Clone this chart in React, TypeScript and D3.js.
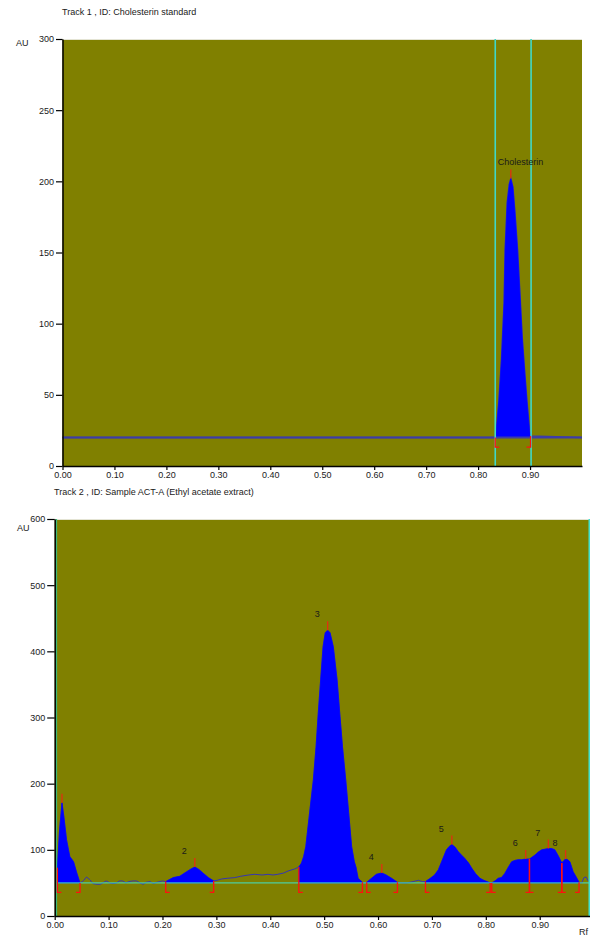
import React, {useEffect, useRef} from 'react';
import * as d3 from 'd3';

// Track 1 - cholesterin standard, scanned signal (Rf / AU)
const trackOneRf = [0, 0.833, 0.835, 0.840, 0.845, 0.850, 0.852, 0.856, 0.860, 0.863, 0.867, 0.871, 0.876, 0.880, 0.885, 0.890, 0.894, 0.899, 0.901, 1.0];
const trackOneAu = [20, 20, 25, 46, 75, 115, 152, 185, 198, 202, 196, 178, 152, 125, 90, 65, 46, 25, 21, 20];
const trackOneNames = ['Cholesterin'];
const trackOneStart = [0.833];
const trackOneApex = [0.863];
const trackOneEnd = [0.901];
const trackOneYTicks = [0, 50, 100, 150, 200, 250, 300];

// Track 2 - sample ACT-A (ethyl acetate extract)
const trackTwoRf = [
    0.003, 0.005, 0.009, 0.0135, 0.017, 0.022, 0.028, 0.035, 0.041, 0.047, 0.053, 0.059, 0.065, 0.071, 0.078, 0.085,
    0.091, 0.096, 0.102, 0.108, 0.115, 0.120, 0.126, 0.132, 0.138, 0.145, 0.152, 0.158, 0.164, 0.170, 0.177, 0.183,
    0.190, 0.200, 0.206, 0.213, 0.220, 0.232, 0.245, 0.253, 0.260, 0.268, 0.275, 0.285, 0.295, 0.302, 0.310, 0.320,
    0.334, 0.345, 0.360, 0.371, 0.385, 0.396, 0.405, 0.414, 0.425, 0.433, 0.445, 0.453, 0.458, 0.462, 0.466, 0.473,
    0.480, 0.485, 0.489, 0.4935, 0.498, 0.502, 0.5065, 0.511, 0.517, 0.524, 0.529, 0.534, 0.540, 0.5455, 0.551, 0.556,
    0.559, 0.563, 0.571, 0.575, 0.579, 0.588, 0.597, 0.607, 0.615, 0.625, 0.636, 0.645, 0.654, 0.665, 0.675, 0.682,
    0.688, 0.697, 0.705, 0.712, 0.718, 0.727, 0.732, 0.737, 0.743, 0.749, 0.755, 0.761, 0.768, 0.774, 0.781, 0.789,
    0.796, 0.802, 0.808, 0.811, 0.817, 0.823, 0.829, 0.835, 0.842, 0.848, 0.854, 0.860, 0.866, 0.874, 0.881, 0.886,
    0.891, 0.898, 0.904, 0.910, 0.916, 0.922, 0.928, 0.935, 0.941, 0.945, 0.948, 0.952, 0.956, 0.962, 0.969, 0.973,
    0.978, 0.982, 0.986, 0.990, 0.995
];
const trackTwoAu = [
    65, 73, 130, 171, 150, 115, 90, 82, 65, 50, 53, 59, 55, 49, 48, 48,
    51, 53, 50, 49, 50, 53, 53, 50, 52, 53, 53, 50, 48, 51, 52, 49,
    51, 53, 52, 55, 58, 60, 67, 71, 74, 70, 65, 58, 53, 54, 56, 57,
    58, 60, 62, 63, 62, 63, 62, 63, 65, 68, 71, 74, 80, 90, 105, 156,
    206, 256, 306, 357, 407, 428, 432, 428, 407, 357, 306, 256, 206, 156, 105, 82,
    74, 57, 51, 50, 51, 57, 63, 65, 62, 57, 51, 50, 50, 52, 54, 52,
    52, 57, 62, 70, 82, 100, 105, 108, 104, 97, 92, 87, 80, 72, 64, 57,
    54, 52, 50, 50, 53, 57, 58, 64, 74, 82, 84, 85, 85, 86, 86, 89,
    92, 97, 100, 101, 102, 102, 100, 90, 80, 84, 86, 85, 82, 67, 57, 51,
    50, 58, 59, 53, 50
];
const trackTwoNames = ['', '2', '3', '4', '5', '6', '7', '8'];
const trackTwoStart = [0.005, 0.206, 0.453, 0.579, 0.688, 0.811, 0.881, 0.941];
const trackTwoApex = [0.0135, 0.260, 0.5065, 0.607, 0.737, 0.874, 0.916, 0.948];
const trackTwoEnd = [0.047, 0.295, 0.571, 0.636, 0.808, 0.881, 0.941, 0.973];
const trackTwoYTicks = [0, 100, 200, 300, 400, 500, 600];

const rfTicks = [0, 0.1, 0.2, 0.3, 0.4, 0.5, 0.6, 0.7, 0.8, 0.9];

const FONT = '"Liberation Sans", Arial, sans-serif';

export default function App() {
    const container = useRef<SVGSVGElement>(null);

    useEffect(() => {
        const svg = d3.select(container.current);
        svg.selectAll('*').remove();

        drawTrack({
            svg, id: 'one',
            left: 62.5, right: 582, top: 39, bottom: 466, yMax: 300, baseline: 20,
            rf: trackOneRf, au: trackOneAu,
            names: trackOneNames, starts: trackOneStart, apexes: trackOneApex, ends: trackOneEnd,
            yTicks: trackOneYTicks, tickSize: 6.5,
            title: 'Track  1 , ID: Cholesterin standard', titleX: 62, titleY: 15,
            auX: 16, auY: 46,
            markers: [0.833, 0.902], markerColors: ['#40d8c8', '#40d8c8'],
            baseColor: '#3c3ca8', baseWidth: 2, lineColor: '#3c3ca8', lineWidth: 1.5,
            rfLabel: false
        });

        drawTrack({
            svg, id: 'two',
            left: 54.7, right: 593.6, top: 519, bottom: 916, yMax: 600, baseline: 50,
            rf: trackTwoRf, au: trackTwoAu,
            names: trackTwoNames, starts: trackTwoStart, apexes: trackTwoApex, ends: trackTwoEnd,
            yTicks: trackTwoYTicks, tickSize: 7.5,
            title: 'Track  2 , ID: Sample ACT-A (Ethyl acetate extract)', titleX: 54, titleY: 495,
            auX: 17, auY: 531,
            markers: [0.003, 0.992], markerColors: ['#3cb878', '#40e0d0'],
            baseColor: '#40e0c8', baseWidth: 1, lineColor: '#3434b4', lineWidth: 1,
            rfLabel: true
        });
    }, []);

    return (
        <svg ref={container} width={590} height={937}
             style={{position: 'absolute', left: 0, top: 0, background: '#ffffff'}}/>
    );
}

function drawTrack(o: any) {
    const {svg, left, right, top, bottom, yMax, baseline, rf, au} = o;

    const xScale = d3.scaleLinear().domain([0, 1]).range([left, right]);
    const yScale = d3.scaleLinear().domain([0, yMax]).range([bottom, top]);
    const points = rf.map((r: number, i: number) => ({rf: r, au: au[i]}));
    const valueAt = (r: number) => points.reduce((best: any, p: any) =>
        Math.abs(p.rf - r) < Math.abs(best.rf - r) ? p : best, points[0]).au;

    const clipId = 'clip-' + o.id;
    svg.append('clipPath').attr('id', clipId)
        .append('rect')
        .attr('x', left).attr('y', top)
        .attr('width', right - left).attr('height', bottom - top);

    // plot background
    svg.append('rect')
        .attr('x', left).attr('y', top)
        .attr('width', right - left).attr('height', bottom - top)
        .attr('fill', '#808000');
    svg.append('line')
        .attr('x1', left).attr('x2', right).attr('y1', top + 0.5).attr('y2', top + 0.5)
        .attr('stroke', '#e4e4d4').attr('stroke-width', 1);

    const plot = svg.append('g').attr('clip-path', `url(#${clipId})`);

    // raw scan line
    const line = d3.line<any>()
        .x(d => xScale(d.rf))
        .y(d => yScale(d.au));
    plot.append('path')
        .attr('d', line(points))
        .attr('fill', 'none')
        .attr('stroke', o.lineColor)
        .attr('stroke-width', o.lineWidth);

    // integrated peak areas
    const area = d3.area<any>()
        .x(d => xScale(d.rf))
        .y0(yScale(baseline))
        .y1(d => yScale(d.au));
    o.starts.forEach((start: number, i: number) => {
        const end = o.ends[i];
        const segment = points.filter((p: any) => p.rf >= start - 1e-6 && p.rf <= end + 1e-6);
        plot.append('path')
            .attr('d', area(segment))
            .attr('fill', '#0000ff')
            .attr('stroke', '#0000ff')
            .attr('stroke-width', 0.6);
    });

    // baseline
    plot.append('line')
        .attr('x1', left).attr('x2', right)
        .attr('y1', yScale(baseline)).attr('y2', yScale(baseline))
        .attr('stroke', o.baseColor)
        .attr('stroke-width', o.baseWidth);

    // start / end of scan
    o.markers.forEach((m: number, i: number) => {
        plot.append('line')
            .attr('x1', xScale(m)).attr('x2', xScale(m))
            .attr('y1', top).attr('y2', bottom)
            .attr('stroke', o.markerColors[i])
            .attr('stroke-width', 1.6);
    });

    // peak brackets, apex ticks and names
    const footY = yScale(baseline) + 9.5;
    o.starts.forEach((start: number, i: number) => {
        const end = o.ends[i];
        const apex = o.apexes[i];
        const xs = xScale(start), xe = xScale(end), xa = xScale(apex);
        const ya = yScale(valueAt(apex));

        plot.append('path')
            .attr('d', `M${xs},${yScale(valueAt(start))}V${footY}H${xs + 4}`)
            .attr('fill', 'none').attr('stroke', '#ff1010').attr('stroke-width', 1.3);
        plot.append('path')
            .attr('d', `M${xe},${yScale(valueAt(end))}V${footY}H${xe - 4}`)
            .attr('fill', 'none').attr('stroke', '#ff1010').attr('stroke-width', 1.3);
        plot.append('line')
            .attr('x1', xa).attr('x2', xa).attr('y1', ya).attr('y2', ya - 9)
            .attr('stroke', '#e03010').attr('stroke-width', 1.3);

        if (o.names[i]) {
            svg.append('text')
                .attr('x', xa - 13).attr('y', ya - 13)
                .attr('font-family', FONT).attr('font-size', 9)
                .attr('fill', '#1a1a1a')
                .text(o.names[i]);
        }
    });

    // axes
    const yAxis = svg.append('g')
        .attr('transform', `translate(${left},0)`)
        .call(d3.axisLeft(yScale).tickValues(o.yTicks).tickSize(o.tickSize).tickSizeOuter(0).tickPadding(2).tickFormat(d3.format('d')));
    const xAxis = svg.append('g')
        .attr('transform', `translate(0,${bottom})`)
        .call(d3.axisBottom(xScale).tickValues(rfTicks).tickSize(4).tickSizeOuter(0).tickPadding(2).tickFormat(d3.format('.2f')));
    [xAxis, yAxis].forEach(axis => {
        axis.attr('font-family', FONT).attr('font-size', 9);
        axis.selectAll('text').attr('fill', '#1a1a1a');
        axis.selectAll('line').attr('stroke', '#000').attr('stroke-width', 1.2);
        axis.select('.domain').attr('stroke', '#000').attr('stroke-width', 1.5);
    });

    svg.append('text')
        .attr('x', o.titleX).attr('y', o.titleY)
        .attr('font-family', FONT).attr('font-size', 9).attr('fill', '#1a1a1a')
        .text(o.title);
    svg.append('text')
        .attr('x', o.auX).attr('y', o.auY)
        .attr('font-family', FONT).attr('font-size', 9).attr('fill', '#1a1a1a')
        .text('AU');
    if (o.rfLabel) {
        svg.append('text')
            .attr('x', 588).attr('y', bottom + 19)
            .attr('text-anchor', 'end')
            .attr('font-family', FONT).attr('font-size', 9).attr('fill', '#1a1a1a')
            .text('Rf');
    }
}
